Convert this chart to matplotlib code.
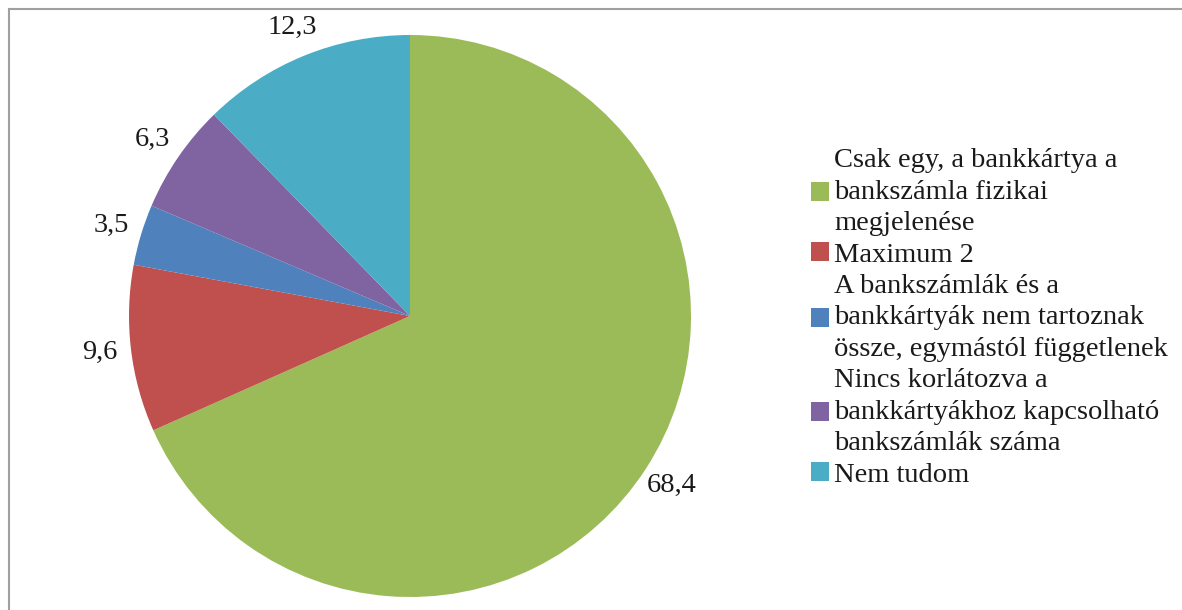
import matplotlib

matplotlib.use("Agg")

import matplotlib.pyplot as plt  # noqa: E402
from matplotlib.lines import Line2D  # noqa: E402
from matplotlib.patches import Patch  # noqa: E402

# Data (percent of respondents)
categories = [
    "Csak egy, a bankkártya a\nbankszámla fizikai\nmegjelenése",
    "Maximum 2",
    "A bankszámlák és a\nbankkártyák nem tartoznak\nössze, egymástól függetlenek",
    "Nincs korlátozva a\nbankkártyákhoz kapcsolható\nbankszámlák száma",
    "Nem tudom",
]
values = [68.4, 9.6, 3.5, 6.3, 12.3]
colors = ["#9BBB59", "#C0504D", "#4F81BD", "#8064A2", "#4BACC6"]

W, H = 1182, 610
FONT_SIZE = 20.5
plt.rcParams["font.family"] = ["Liberation Serif", "DejaVu Serif"]

fig = plt.figure(figsize=(W / 100, H / 100), dpi=100)
ax = fig.add_axes([0, 0, 1, 1])

labels = [f"{v:.1f}".replace(".", ",") for v in values]
wedges, texts = ax.pie(
    values,
    colors=colors,
    startangle=90,
    counterclock=False,
    center=(410, H - 316),
    radius=281,
    labels=labels,
    labeldistance=1.11,
    wedgeprops=dict(linewidth=0),
    textprops=dict(fontsize=FONT_SIZE, color="#1a1a1a"),
    frame=True,
)
ax.axis("off")
ax.set_xlim(0, W)
ax.set_ylim(0, H)
ax.set_aspect("equal")
for t in texts:
    t.set_ha("center")
    t.set_va("center")

handles = [Patch(facecolor=c, edgecolor="none") for c in colors]
leg = ax.legend(
    handles,
    categories,
    loc="center left",
    bbox_to_anchor=(811, H - 318),
    bbox_transform=ax.transData,
    frameon=False,
    fontsize=FONT_SIZE,
    handlelength=0.62,
    handleheight=0.62,
    handletextpad=0.2,
    labelspacing=0.23,
    borderpad=0,
    borderaxespad=0,
)
for t in leg.get_texts():
    t.set_color("#1a1a1a")
    t.set_linespacing(1.33)

# partial frame (top and left edges visible in the crop)
fig.add_artist(Line2D([9 / W, 1], [1 - 9 / H, 1 - 9 / H], transform=fig.transFigure,
                      color="#a0a0a0", linewidth=1.5))
fig.add_artist(Line2D([9 / W, 9 / W], [0, 1 - 9 / H], transform=fig.transFigure,
                      color="#a0a0a0", linewidth=1.5))

fig.savefig("out.png", dpi=100, facecolor="white")
